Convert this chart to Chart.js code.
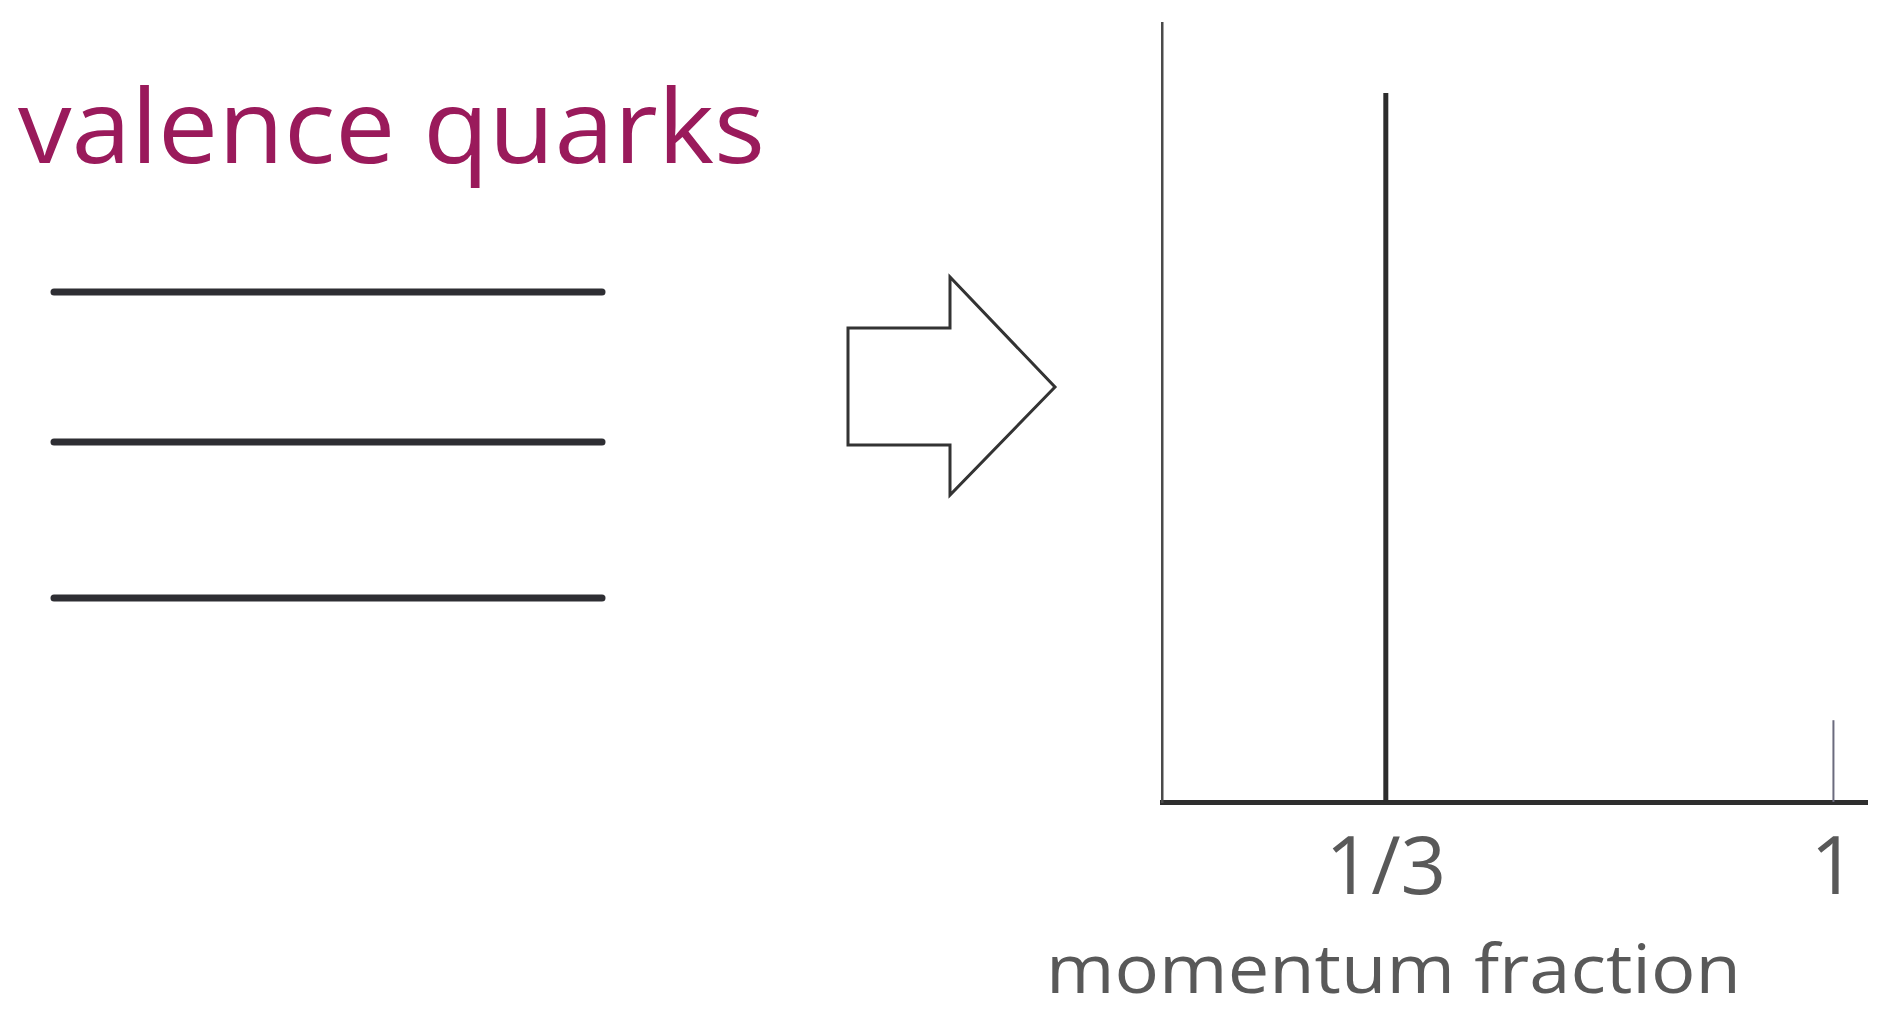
<!DOCTYPE html>
<html><head><meta charset="utf-8">
<script src="https://cdn.jsdelivr.net/npm/chart.js@4.4.1/dist/chart.umd.min.js"></script>
<style>
html,body{margin:0;padding:0;background:#fff;width:1896px;height:1009px;overflow:hidden;}
#deco{position:absolute;left:0;top:0;}
#wrap{position:absolute;left:1100px;top:0;width:796px;height:1009px;}
</style></head><body>
<svg id="deco" width="1896" height="1009" xmlns="http://www.w3.org/2000/svg">
  <text x="18" y="163" font-family="Open Sans" font-size="102" fill="#9a1a5b" textLength="747" lengthAdjust="spacingAndGlyphs">valence quarks</text>
  <g id="quarks"></g>
  <polygon points="848,328 950,328 950,277 1055,387 950,495 950,445 848,445" fill="#fff" stroke="#333" stroke-width="3" stroke-linejoin="miter"/>
  <text x="1046" y="993" font-family="Open Sans" font-size="68" fill="#595959" textLength="695" lengthAdjust="spacingAndGlyphs">momentum fraction</text>
</svg>
<div id="wrap"><canvas id="c"></canvas></div>
<script>
// data
const spikePositions = [1/3, 1];
const spikeHeights = [0.91, 0.105];
const tickValues = [1/3, 1];
const tickLabels = ['1/3', '1'];
const quarkLineRows = [292, 442, 598];

// decorative quark lines
const g = document.getElementById('quarks');
quarkLineRows.forEach(y => {
  const l = document.createElementNS('http://www.w3.org/2000/svg', 'line');
  l.setAttribute('x1', 54); l.setAttribute('x2', 602);
  l.setAttribute('y1', y); l.setAttribute('y2', y);
  l.setAttribute('stroke', '#2e2e33'); l.setAttribute('stroke-width', 7);
  l.setAttribute('stroke-linecap', 'round');
  g.appendChild(l);
});

const datasets = spikePositions.map((x, i) => ({
  data: [{x: x, y: 0}, {x: x, y: spikeHeights[i]}],
  borderColor: i === 0 ? '#2c2c2c' : '#6b6b7e',
  borderWidth: i === 0 ? 5 : 2,
  pointRadius: 0,
  showLine: true,
  borderCapStyle: 'butt',
  clip: false
}));

new Chart(document.getElementById('c'), {
  type: 'scatter',
  data: { datasets },
  options: {
    responsive: true,
    maintainAspectRatio: false,
    animation: false,
    layout: { padding: { left: 62, top: 23, right: 29, bottom: 0 } },
    plugins: { legend: { display: false }, tooltip: { enabled: false } },
    scales: {
      x: {
        type: 'linear', min: 0, max: 1.05,
        grid: { display: false },
        border: { display: true, color: '#2e2e2e', width: 5 },
        afterBuildTicks: s => { s.ticks = tickValues.map(v => ({ value: v })); },
        afterFit: s => { s.height = 207; },
        ticks: {
          autoSkip: false, maxRotation: 0, padding: 13, color: '#595959',
          font: { family: 'Open Sans', size: 80 },
          callback: (v, i) => tickLabels[i]
        }
      },
      y: {
        type: 'linear', min: 0, max: 1,
        grid: { display: false },
        ticks: { display: false },
        border: { display: true, color: '#4a4a4a', width: 2.5 },
        afterFit: s => { s.width = 0; }
      }
    }
  }
});
</script>
</body></html>
